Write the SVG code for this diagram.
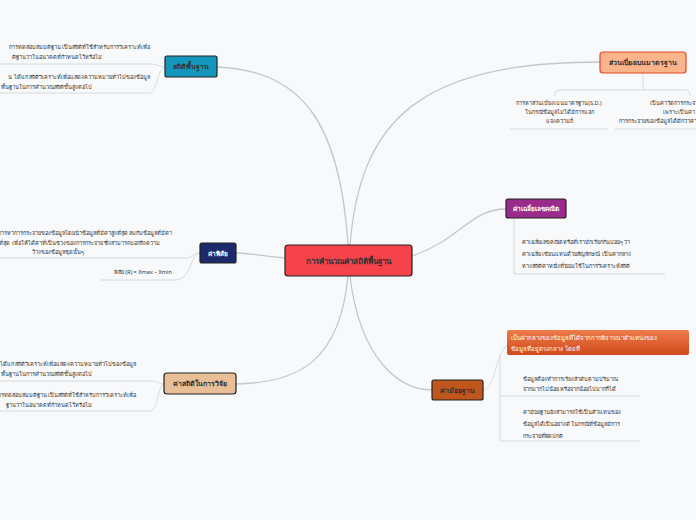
<svg xmlns="http://www.w3.org/2000/svg" width="696" height="520" viewBox="0 0 696 520">
<style>
text{font-family:"Noto Sans","Liberation Sans",sans-serif;fill:#333;font-size:5.6px}
.n{stroke:#222;stroke-width:1.2}
.t{font-size:7px;font-weight:bold;text-anchor:middle}
.c{fill:none;stroke:#c4c8cc;stroke-width:1.3}
.u{fill:none;stroke:#cfd3d6;stroke-width:0.8}
</style>
<defs><linearGradient id="g" x1="0" y1="0" x2="0" y2="1"><stop offset="0" stop-color="#ef7b4a"/><stop offset="1" stop-color="#cf4a1c"/></linearGradient></defs>
<rect width="696" height="520" fill="#f7f9fb"/>
<g id="connectors">
<path class="c" d="M348 245 C340 120 300 70 217 67"/>
<path class="c" d="M350 245 C360 120 420 62 600 62"/>
<path class="c" d="M412 256 C460 240 470 209 506 209"/>
<path class="c" d="M285 258 C262 256 250 253 236 253"/>
<path class="c" d="M348 276 C340 360 300 383 236 384"/>
<path class="c" d="M350 276 C360 360 400 390 432 390"/>
<path class="u" d="M165 67 C158 67 156 93 150 93 L0 93 M165 67 C160 67 158 64 150 64 L0 64"/>
<path class="u" d="M643 73 L643 90 M643 90 L560 90 Q555 90 555 96 M643 90 L685 90 Q690 90 690 96 M510 129 L608 129 M615 129 L696 129"/>
<path class="u" d="M514 218 L514 274 L665 274"/>
<path class="u" d="M200 253 C193 253 193 258 185 258 L0 258 M200 253 C190 253 192 280 175 280 L100 280"/>
<path class="u" d="M164 384 C158 384 158 381 150 381 L0 381 M164 384 C158 384 158 411 150 411 L0 411"/>
<path class="u" d="M483 390 C495 390 495 355 507 345 M500 355 L500 396 L640 396 M500 396 L500 441 L640 441"/>
</g>
<g id="center"><rect class="n" x="285" y="245" width="127" height="31" rx="3" fill="#f5424b"/><text class="t" x="348" y="263.5" style="font-size:8px">การคำนวณค่าสถิติพื้นฐาน</text></g>
<g id="basic"><rect class="n" x="165" y="56" width="52" height="21" rx="2" fill="#1597bd"/><text class="t" x="191" y="69">สถิติพื้นฐาน</text>
<text x="150" y="49" text-anchor="end">การทดสอบสมมติฐาน เป็นสถิติที่ใช้สำหรับการวิเคราะห์เพื่อ</text>
<text x="102" y="59" text-anchor="end">ติฐานว่าในอนาคตที่กำหนดไว้หรือไม่</text>
<text x="150" y="79" text-anchor="end">น ได้แก่ สถิติวิเคราะห์เพื่อแสดงความหมายทั่วไปของข้อมูล</text>
<text x="92" y="89" text-anchor="end">พื้นฐานในการคำนวณสถิติขั้นสูงต่อไป</text></g>
<g id="sd"><rect x="600" y="52" width="86" height="21" rx="3" fill="#f9b48a" stroke="#e04a2a" stroke-width="1.2"/><text class="t" x="643" y="65" fill="#c0301a">ส่วนเบี่ยงเบนมาตรฐาน</text>
<text x="559" y="105" text-anchor="middle">การหาส่วนเบี่ยงเบนมาตรฐาน(S.D.)</text>
<text x="559" y="114" text-anchor="middle">ในกรณีข้อมูลไม่ได้มีการแจก</text>
<text x="559" y="123" text-anchor="middle">แจงความถี่</text>
<text x="650" y="105">เป็นค่าวัดการกระจาย</text>
<text x="663" y="114">เพราะเป็นค่า</text>
<text x="619" y="123">การกระจายของข้อมูลได้ดีกว่าค่า</text></g>
<g id="mean"><rect class="n" x="506" y="199" width="60" height="19" rx="2" fill="#9a2b8d"/><text class="t" x="536" y="211" style="fill:#fff;font-size:6.5px">ค่าเฉลี่ยเลขคณิต</text>
<text x="522" y="244">ค่าเฉลี่ยเลขคณิตหรือที่เรามักเรียกกันบ่อยๆ ว่า</text>
<text x="522" y="256">ค่าเฉลี่ย เขียนแทนด้วยสัญลักษณ์ เป็นค่ากลาง</text>
<text x="522" y="268">ทางสถิติค่าหนึ่งที่นิยมใช้ในการวิเคราะห์สถิติ</text></g>
<g id="range"><rect class="n" x="200" y="243" width="36" height="20" rx="2" fill="#1c2a6b"/><text class="t" x="218" y="256" style="fill:#fff;font-size:6.5px">ค่าพิสัย</text>
<text x="172" y="235" text-anchor="end">การหาการกระจายของข้อมูลโดยนำข้อมูลที่มีค่าสูงที่สุด ลบกับข้อมูลที่มีค่า</text>
<text x="160" y="245" text-anchor="end">ที่สุด เพื่อให้ได้ค่าที่เป็นช่วงของการกระจาย ซึ่งสามารถบอกถึงความ</text>
<text x="84" y="254" text-anchor="end">ว้างของข้อมูลชุดนั้นๆ</text>
<text x="172" y="274" text-anchor="end">พิสัย (R) = Xmax – Xmin</text></g>
<g id="research"><rect class="n" x="164" y="373" width="72" height="21" rx="3" fill="#e8bf96"/><text class="t" x="200" y="386">ค่าสถิติในการวิจัย</text>
<text x="136" y="366" text-anchor="end">ได้แก่ สถิติวิเคราะห์เพื่อแสดงความหมายทั่วไปของข้อมูล</text>
<text x="92" y="376" text-anchor="end">พื้นฐานในการคำนวณสถิติขั้นสูงต่อไป</text>
<text x="136" y="397" text-anchor="end">การทดสอบสมมติฐาน เป็นสถิติที่ใช้สำหรับการวิเคราะห์เพื่อ</text>
<text x="92" y="407" text-anchor="end">ฐานว่าในอนาคตที่กำหนดไว้หรือไม่</text></g>
<g id="median"><rect class="n" x="432" y="380" width="51" height="20" rx="2" fill="#c0561c"/><text class="t" x="457" y="393">ค่ามัธยฐาน</text>
<rect x="507" y="330" width="182" height="25" rx="2" fill="url(#g)"/>
<text x="511" y="340" style="fill:#fff;font-size:6px">เป็นค่ากลางของข้อมูลที่ได้จากการพิจารณาตำแหน่งของ</text>
<text x="511" y="351" style="fill:#fff;font-size:6px">ข้อมูลที่อยู่ตรงกลาง โดยที่</text>
<text x="523" y="381">ข้อมูลต้องทำการเรียงลำดับตามปริมาณ</text>
<text x="523" y="391">จากมากไปน้อย หรือจากน้อยไปมากก็ได้</text>
<text x="523" y="414">ค่ามัธยฐานยังสามารถใช้เป็นตัวแทนของ</text>
<text x="523" y="426">ข้อมูลได้เป็นอย่างดี ในกรณีที่ข้อมูลมีการ</text>
<text x="523" y="438">กระจายที่ผิดปกติ</text></g>
</svg>
